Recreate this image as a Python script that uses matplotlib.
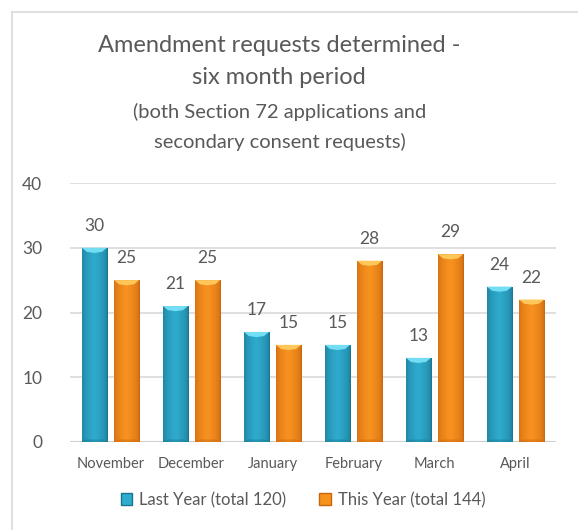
import numpy as np
import matplotlib
matplotlib.use("Agg")
import matplotlib.pyplot as plt
from matplotlib.patches import Polygon, Patch
from matplotlib.lines import Line2D
from matplotlib.colors import to_rgb

## data
months = ["November", "December", "January", "February", "March", "April"]
last_year = [30, 21, 17, 15, 13, 24]
this_year = [25, 25, 15, 28, 29, 22]
series_names = ["Last Year (total 120)", "This Year (total 144)"]

plt.rcParams['font.family'] = ['Lato', 'DejaVu Sans']
grey = '#595959'

## bar styles: edge colour, middle colour, top bevel colour
styles = [('#1a7590', '#2fabce', '#72ddf3'),
          ('#c8650f', '#f8921f', '#ffc65a')]

fig = plt.figure(figsize=(5.78, 5.30), dpi=100)
ax = fig.add_axes([70/578, 88/530, 486/578, 259/530])

## chart border (only left and top visible in the crop)
fig.add_artist(Line2D([12/578, 12/578], [0, 1 - 12/530], color='#d9d9d9', lw=1.2))
fig.add_artist(Line2D([12/578, 1], [1 - 12/530, 1 - 12/530], color='#d9d9d9', lw=1.2))

x = np.arange(len(months))
w = 0.31
off = 0.198


def shaded_bar(ax, xc, h, style):
    edge, mid, top = [np.array(to_rgb(c)) for c in style]
    bars = ax.bar(xc, h, width=w, color=mid, zorder=2, linewidth=0)
    patch = bars[0]
    ## horizontal gradient, darker at both sides
    t = np.linspace(0, 1, 60)
    prof = np.clip(1 - np.abs(t - 0.48) * 2.0, 0, 1) ** 0.4
    row = edge[None, :] * (1 - prof[:, None]) + mid[None, :] * prof[:, None]
    img = np.repeat(row[None, :, :], 2, axis=0)
    im = ax.imshow(img, extent=[xc - w/2, xc + w/2, 0, h], aspect='auto',
                   zorder=3, interpolation='bicubic')
    im.set_clip_path(patch)
    ## top bevel
    d = 0.8
    x0, x1 = xc - w/2, xc + w/2
    ax.add_patch(Polygon([(x0, h), (x1, h), (x1 - w*0.2, h - d*0.8), (xc, h - d),
                          (x0 + w*0.2, h - d*0.8)],
                         closed=True, facecolor=top, edgecolor='none', zorder=4))
    ## bottom bevel, slightly darker
    ax.add_patch(Polygon([(x0, 0), (x1, 0), (x1 - w*0.15, 0.4), (x0 + w*0.15, 0.4)],
                         closed=True, facecolor=edge, alpha=0.4, edgecolor='none', zorder=4))


for i in range(len(months)):
    shaded_bar(ax, x[i] - off, last_year[i], styles[0])
    shaded_bar(ax, x[i] + off, this_year[i], styles[1])
    ax.text(x[i] - off, last_year[i] + 3.4, str(last_year[i]), ha='center', va='center',
            fontsize=12.5, color=grey)
    ax.text(x[i] + off, this_year[i] + 3.4, str(this_year[i]), ha='center', va='center',
            fontsize=12.5, color=grey)

ax.set_xlim(-0.5, 5.5)
ax.set_ylim(0, 40)
ax.set_yticks([0, 10, 20, 30, 40])
ax.set_xticks(x)
ax.set_xticklabels(months, fontsize=10.5, color=grey)
ax.tick_params(axis='y', labelsize=12.5, colors=grey, length=0, pad=20)
ax.tick_params(axis='x', length=0, pad=11)
ax.grid(axis='y', color='#d9d9d9', lw=1.2, zorder=0)
ax.set_axisbelow(True)
for s in ax.spines.values():
    s.set_visible(False)
ax.axhline(0, color='#d0d0d0', lw=1.5, zorder=1)

## title lines
fig.text(279/578, 1 - 45/530, "Amendment requests determined -", ha='center', va='center',
         fontsize=17, color=grey)
fig.text(279/578, 1 - 77/530, "six month period", ha='center', va='center',
         fontsize=17, color=grey)
fig.text(280/578, 1 - 112/530, "(both Section 72 applications and", ha='center', va='center',
         fontsize=14.5, color=grey)
fig.text(280/578, 1 - 142/530, "secondary consent requests)", ha='center', va='center',
         fontsize=14.5, color=grey)

handles = [Patch(facecolor=styles[0][1], edgecolor=styles[0][0]),
           Patch(facecolor=styles[1][1], edgecolor=styles[1][0])]
fig.legend(handles, series_names, loc='center', bbox_to_anchor=(303/578, 1 - 500/530),
           ncol=2, frameon=False, fontsize=12, labelcolor=grey,
           handlelength=0.7, handleheight=0.7, handletextpad=0.4, columnspacing=2.0)

fig.savefig("out.png", dpi=100)
